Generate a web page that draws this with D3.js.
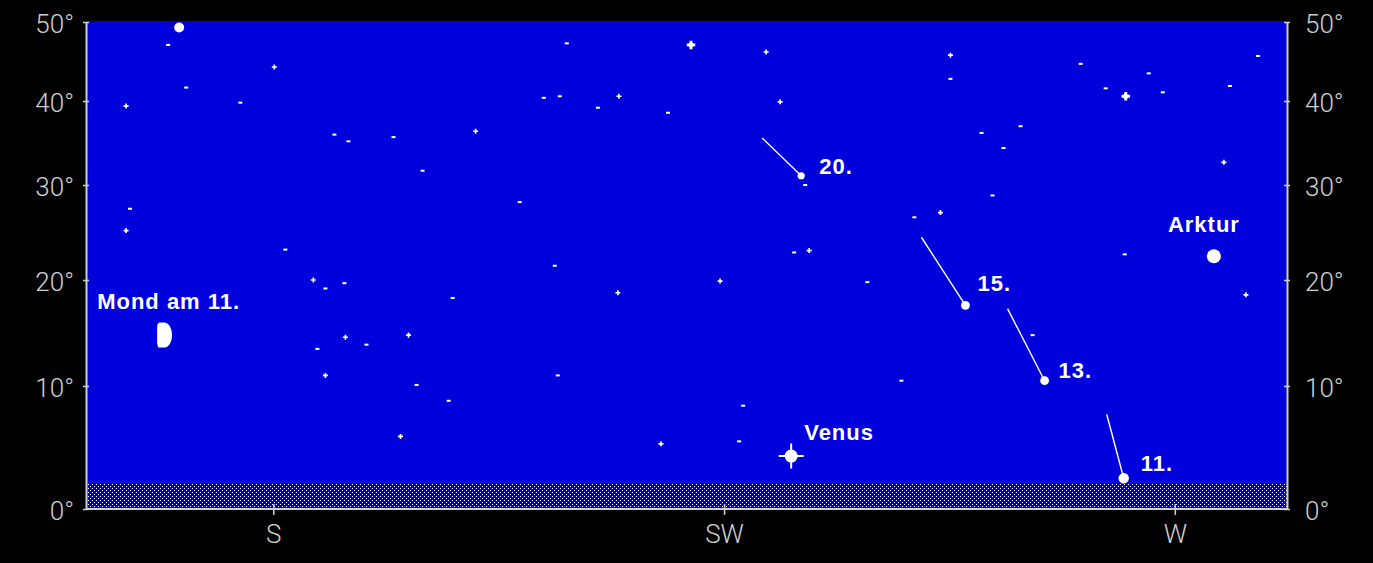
<!DOCTYPE html>
<html>
<head>
<meta charset="utf-8">
<script src="https://cdn.jsdelivr.net/npm/d3@7"></script>
<style>
  html, body { margin: 0; padding: 0; background: #000; }
  svg { display: block; }
</style>
</head>
<body>
<svg id="chart" width="1373" height="563"></svg>
<script>
// Azimut (Grad) unten, Hoehe (Grad) links/rechts
const azTicks = [180, 225, 270];
const azLabels = ["S", "SW", "W"];
const altTicks = [0, 10, 20, 30, 40, 50];

// Sterne: [azimut, hoehe, klasse]  1 = schwach, 2 = mittel, 3 = hell, 4 = sehr hell
const stars = [
  [170.6, 49.3, 4], [169.5, 47.1, 1], [171.3, 41.7, 1], [165.3, 39.4, 2],
  [176.7, 39.8, 1], [180.1, 44.3, 2], [165.7, 27.5, 1], [165.3, 25.2, 2],
  [181.2, 23.2, 1], [186.1, 36.0, 1], [187.5, 35.2, 1], [192.0, 35.7, 1],
  [194.9, 31.7, 1], [200.2, 36.4, 2], [207.0, 40.4, 1], [208.6, 40.6, 1],
  [209.3, 47.3, 1], [212.4, 39.2, 1], [214.5, 40.6, 2], [219.4, 38.6, 1],
  [221.7, 47.1, 3], [233.1, 30.0, 1], [232.0, 22.9, 1], [233.5, 23.1, 2],
  [239.3, 19.8, 1], [244.0, 26.6, 1], [246.6, 27.1, 2], [251.8, 28.9, 1],
  [250.7, 36.2, 1], [252.9, 34.4, 1], [254.6, 37.0, 1], [255.8, 14.8, 1],
  [226.9, 8.4, 1], [218.7, 5.3, 2], [226.5, 5.5, 1], [242.7, 10.5, 1],
  [265.0, 22.7, 1], [277.1, 18.6, 2], [278.3, 45.7, 1], [275.5, 41.9, 1],
  [274.9, 32.7, 2], [229.2, 46.2, 2], [230.6, 39.9, 2], [204.6, 28.2, 1],
  [208.1, 21.5, 1], [214.4, 18.8, 2], [224.6, 19.9, 2], [184.0, 20.0, 2],
  [185.2, 19.2, 1], [187.1, 19.7, 1], [184.4, 13.5, 1], [187.2, 14.6, 2],
  [189.3, 13.9, 1], [193.5, 14.8, 2], [185.2, 11.0, 2], [194.3, 10.1, 1],
  [197.5, 8.8, 1], [192.7, 5.9, 2], [197.9, 18.3, 1], [208.4, 11.0, 1],
  [247.6, 45.8, 2], [247.6, 42.8, 1], [260.6, 44.7, 1], [263.1, 41.6, 1],
  [265.1, 40.6, 3], [267.4, 43.5, 1], [268.8, 41.1, 1]
];

// Komet: Kopf und Schweifende je Datum
const cometDates = ["20.", "15.", "13.", "11."];
const cometHead = [[232.7, 31.1], [249.1, 17.6], [257.0, 10.5], [264.9, 2.5]];
const cometTail = [[228.8, 35.6], [244.7, 24.5], [253.3, 17.3], [263.2, 7.7]];
const cometMag = [1, 2, 2, 3];

// Mond, Venus, Arktur
const moon = { name: "Mond am 11.", az: 169.2, alt: 14.8 };
const venus = { name: "Venus", az: 231.7, alt: 4.3 };
const arktur = { name: "Arktur", az: 273.9, alt: 22.5 };

// Horizontdunst bis
const hazeAlt = 2;

const svg = d3.select("#chart");
const m = { left: 86, right: 1287, top: 21, bottom: 509 };
const blue = "#0000dc";

const x = d3.scaleLinear().domain([161.3, 281.2]).range([m.left, m.right]);
// Hoehenskala ist gestaucht nach oben
const y = d3.scaleLinear().domain(altTicks).range([509, 386, 280, 185, 101, 22]);

svg.append("rect").attr("width", 1373).attr("height", 563).attr("fill", "#000");

const defs = svg.append("defs");
defs.append("clipPath").attr("id", "plotclip").append("rect")
  .attr("x", m.left).attr("y", m.top)
  .attr("width", m.right - m.left).attr("height", m.bottom - m.top);

const pat = defs.append("pattern").attr("id", "haze")
  .attr("patternUnits", "userSpaceOnUse").attr("width", 4).attr("height", 4);
pat.append("rect").attr("width", 4).attr("height", 4).attr("fill", blue);
pat.append("rect").attr("x", 0).attr("y", 0).attr("width", 1).attr("height", 1).attr("fill", "#fff");
pat.append("rect").attr("x", 2).attr("y", 2).attr("width", 1).attr("height", 1).attr("fill", "#fff");
pat.selectAll("rect").attr("shape-rendering", "crispEdges");

svg.append("rect")
  .attr("x", m.left).attr("y", m.top)
  .attr("width", m.right - m.left).attr("height", m.bottom - m.top)
  .attr("fill", blue);

svg.append("rect")
  .attr("x", m.left).attr("y", Math.round(y(hazeAlt)))
  .attr("width", m.right - m.left).attr("height", m.bottom - Math.round(y(hazeAlt)))
  .attr("fill", "url(#haze)")
  .attr("shape-rendering", "crispEdges");

// stars
const g = svg.append("g").attr("clip-path", "url(#plotclip)");
const cross = d3.symbol().type(d3.symbolCross);
stars.forEach(([az, alt, k]) => {
  const px = x(az), py = y(alt);
  if (k === 1) {
    g.append("rect").attr("x", px - 2).attr("y", py - 1).attr("width", 4).attr("height", 2).attr("fill", "#fff");
  } else if (k === 2) {
    g.append("path").attr("d", cross.size(14)()).attr("transform", `translate(${px},${py})`).attr("fill", "#fff");
  } else if (k === 3) {
    g.append("path").attr("d", cross.size(40)()).attr("transform", `translate(${px},${py})`).attr("fill", "#fff");
    g.append("circle").attr("cx", px).attr("cy", py).attr("r", 2.6).attr("fill", "#fff");
  } else {
    g.append("circle").attr("cx", px).attr("cy", py).attr("r", 5).attr("fill", "#fff");
  }
});

// comet
const headR = d3.scaleLinear().domain([1, 3]).range([3.6, 5.2]);
const labelOff = { "20.": [18, -10], "15.": [12, -22], "13.": [14, -11], "11.": [17, -15] };
cometDates.forEach((d, i) => {
  g.append("line")
    .attr("x1", x(cometTail[i][0])).attr("y1", y(cometTail[i][1]))
    .attr("x2", x(cometHead[i][0])).attr("y2", y(cometHead[i][1]))
    .attr("stroke", "#fff").attr("stroke-width", 1.4);
  g.append("circle")
    .attr("cx", x(cometHead[i][0])).attr("cy", y(cometHead[i][1]))
    .attr("r", headR(cometMag[i])).attr("fill", "#fff");
  g.append("text")
    .attr("x", x(cometHead[i][0]) + labelOff[d][0])
    .attr("y", y(cometHead[i][1]) + labelOff[d][1])
    .attr("class", "lbl").text(d);
});

// moon (halbmond)
const mx = x(moon.az), my = y(moon.alt);
g.append("path")
  .attr("d", "M-5,-12.5 L-1,-12.5 A8,12.5 0 0 1 -1,12.5 L-7,12.5 L-8,8 L-8,-8 Q-8,-12.5 -5,-12.5 Z")
  .attr("transform", `translate(${mx},${my})`)
  .attr("fill", "#fff");
g.append("text").attr("x", mx - 68).attr("y", my - 34).attr("class", "lbl").text(moon.name);

// venus
const vx = x(venus.az), vy = y(venus.alt);
g.append("circle").attr("cx", vx).attr("cy", vy).attr("r", 6.5).attr("fill", "#fff");
g.append("path")
  .attr("d", `M${vx - 12.5},${vy} H${vx + 12.5} M${vx},${vy - 12.5} V${vy + 12.5}`)
  .attr("stroke", "#fff").attr("stroke-width", 2);
g.append("text").attr("x", vx + 13).attr("y", vy - 24).attr("class", "lbl").text(venus.name);

// arktur
const ax = x(arktur.az), ay = y(arktur.alt);
g.append("circle").attr("cx", ax).attr("cy", ay).attr("r", 7).attr("fill", "#fff");
g.append("text").attr("x", ax - 46).attr("y", ay - 32).attr("class", "lbl").text(arktur.name);

g.selectAll("text.lbl")
  .attr("fill", "#fff")
  .attr("font-family", "'Liberation Sans', Arial, sans-serif")
  .attr("font-weight", "bold")
  .attr("font-size", 22)
  .attr("letter-spacing", 1)
  .attr("dy", "0.36em");

// axes
const axisColor = "#cfcfcf";
const fmtDeg = d => d + "°";

const yl = svg.append("g").attr("transform", `translate(${m.left},0)`)
  .call(d3.axisLeft(y).tickValues(altTicks).tickFormat(fmtDeg).tickSizeOuter(0).tickSizeInner(3).tickPadding(9));
const yr = svg.append("g").attr("transform", `translate(${m.right},0)`)
  .call(d3.axisRight(y).tickValues(altTicks).tickFormat(fmtDeg).tickSizeOuter(0).tickSizeInner(3).tickPadding(15));
const xb = svg.append("g").attr("transform", `translate(0,${m.bottom})`)
  .call(d3.axisBottom(x).tickValues(azTicks).tickFormat((d, i) => azLabels[i]).tickSizeOuter(0).tickSizeInner(6).tickPadding(12));

[yl, yr].forEach(a => a.selectAll(".tick line").attr("x1", -3).attr("x2", 3));
xb.selectAll(".tick line").attr("y1", -5).attr("y2", 6);
xb.select(".domain").attr("d", `M${m.left},0H${m.right}`);

[yl, yr, xb].forEach(a => {
  a.select(".domain").attr("stroke", axisColor).attr("stroke-width", 2);
  a.selectAll(".tick line").attr("stroke", axisColor).attr("stroke-width", 1.5);
  a.selectAll(".tick text")
    .attr("fill", axisColor)
    .attr("font-family", "Roboto, 'Liberation Sans', Arial, sans-serif")
    .attr("font-weight", 300)
    .attr("font-size", 26);
});
yl.selectAll(".tick text").attr("dy", "0.40em");
yr.selectAll(".tick text").attr("dy", "0.40em");
xb.selectAll(".tick text").attr("dy", "0.6em");
</script>
</body>
</html>
